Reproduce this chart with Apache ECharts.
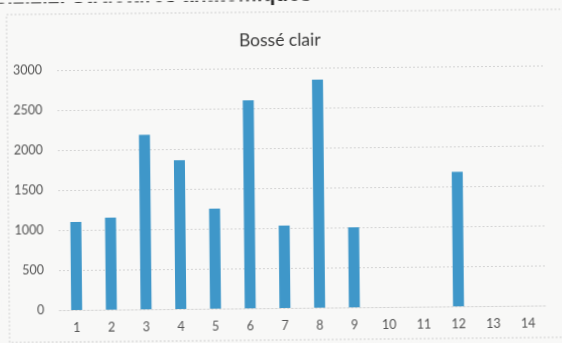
<!DOCTYPE html>
<html>
<head>
<meta charset="utf-8">
<script src="https://cdn.jsdelivr.net/npm/echarts@6/dist/echarts.min.js"></script>
<style>
html,body{margin:0;padding:0;background:#f8f8f7;overflow:hidden;}
#chart{width:562px;height:343px;transform:rotate(-0.55deg);transform-origin:50% 50%;}
</style>
</head>
<body>
<div id="chart"></div>
<script>
const categories = ['1','2','3','4','5','6','7','8','9','10','11','12','13','14'];
const values = [1100, 1150, 2180, 1860, 1250, 2600, 1030, 2850, 1000, null, null, 1680, null, null];
const yTicks = [0, 500, 1000, 1500, 2000, 2500, 3000];
const titleText = 'Bossé clair';
const headingText = '3.2.2.2. Structures anatomiques';

const chart = echarts.init(document.getElementById('chart'), null, {renderer:'canvas'});
chart.setOption({
  backgroundColor: '#f8f8f7',
  animation: false,
  title: {
    text: titleText, left: 'center', top: 26,
    textStyle: {fontFamily: 'Lato', fontSize: 17.5, fontWeight: 'normal', color: '#3a3a3a'}
  },
  graphic: [
    {type:'rect', shape:{x:8, y:12, width:600, height:328}, style:{fill:'none', stroke:'#cfcfcf', lineWidth:1, lineDash:[2,2]}, silent:true, z:-1},
    {type:'text', x:-3, y:6, style:{text: headingText, font:'bold 21px "Liberation Sans"', fill:'#2a2a2a', textVerticalAlign:'bottom'}, silent:true}
  ],
  grid: {left: 58, right: 18, top: 68, bottom: 35},
  xAxis: {
    type: 'category', data: categories,
    axisLine: {show: true, lineStyle: {color: '#d4d4d4', type: [2,2]}},
    axisTick: {show: false},
    axisLabel: {fontFamily: 'Lato', fontSize: 12.5, color: '#555', margin: 11}
  },
  yAxis: {
    type: 'value', min: 0, max: 3000, interval: 500,
    axisLine: {show: false}, axisTick: {show: false},
    axisLabel: {fontFamily: 'Lato', fontSize: 12.5, color: '#555', margin: 15,
      formatter: v => yTicks.includes(v) ? String(v) : ''},
    splitLine: {lineStyle: {color: '#d4d4d4', type: [2,2]}}
  },
  series: [{
    type: 'bar', data: values, barWidth: 11,
    itemStyle: {color: '#3f97c9'}
  }]
});
</script>
</body>
</html>
